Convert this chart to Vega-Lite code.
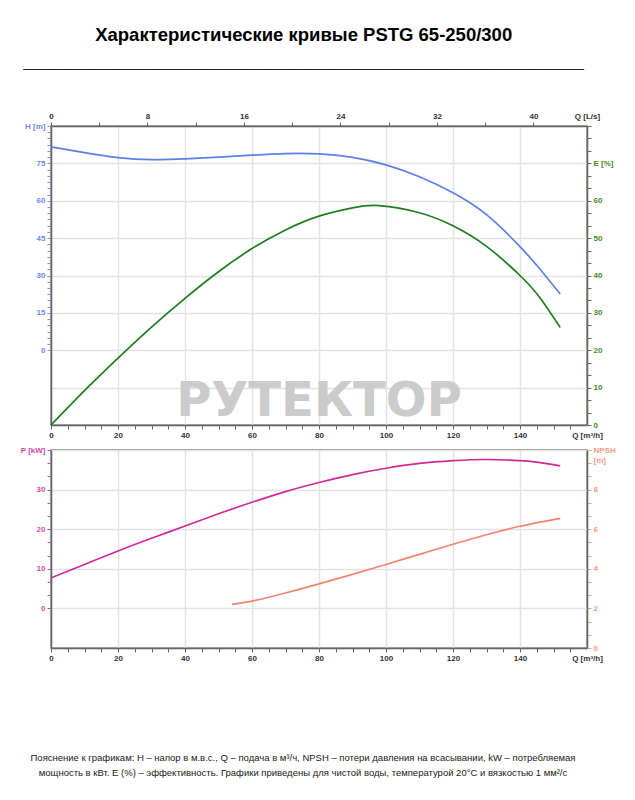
{
  "$schema": "https://vega.github.io/schema/vega-lite/v6.json",
  "background": "white",
  "padding": {"left": 19, "top": 25, "right": 5, "bottom": 5},
  "title": {
    "text": "Характеристические кривые PSTG 65-250/300",
    "subtitle": "____________________________________________________________________________________",
    "anchor": "middle",
    "font": "Liberation Sans",
    "fontSize": 18.5,
    "fontWeight": "bold",
    "color": "#000000",
    "subtitleFont": "Liberation Sans",
    "subtitleFontSize": 12,
    "subtitleColor": "#000000",
    "subtitlePadding": 14,
    "offset": 42,
    "dx": -14
  },
  "config": {
    "view": {"stroke": "#777777", "strokeWidth": 1.5},
    "axis": {
      "labelFont": "Liberation Sans",
      "labelFontSize": 8,
      "labelFontWeight": "bold",
      "labelColor": "#333333",
      "labelFlush": false,
      "labelOverlap": false,
      "domainColor": "#666666",
      "domainWidth": 1.5,
      "tickColor": "#666666",
      "tickWidth": 1,
      "tickSize": 4,
      "gridColor": "#e2e2e2",
      "gridWidth": 1.5,
      "title": null
    }
  },
  "datasets": {
    "hq": [
      {"Q": 0, "H": 81.6}, {"Q": 10, "H": 79.3}, {"Q": 20, "H": 77.3}, {"Q": 30, "H": 76.5},
      {"Q": 40, "H": 76.8}, {"Q": 50, "H": 77.5}, {"Q": 60, "H": 78.3}, {"Q": 70, "H": 78.9},
      {"Q": 80, "H": 78.8}, {"Q": 90, "H": 77.4}, {"Q": 100, "H": 74.4}, {"Q": 110, "H": 69.6},
      {"Q": 120, "H": 63.2}, {"Q": 130, "H": 54.4}, {"Q": 140, "H": 41.6}, {"Q": 146, "H": 32.5},
      {"Q": 152, "H": 22.6}
    ],
    "eff": [
      {"Q": 0, "E": 0}, {"Q": 10, "E": 9.2}, {"Q": 20, "E": 17.9}, {"Q": 30, "E": 26.2},
      {"Q": 40, "E": 33.9}, {"Q": 50, "E": 41.0}, {"Q": 60, "E": 47.2}, {"Q": 70, "E": 52.2},
      {"Q": 80, "E": 55.9}, {"Q": 90, "E": 58.1}, {"Q": 98, "E": 58.7}, {"Q": 110, "E": 56.8},
      {"Q": 120, "E": 53.3}, {"Q": 130, "E": 47.8}, {"Q": 140, "E": 40.0}, {"Q": 146, "E": 34.0},
      {"Q": 152, "E": 26.1}
    ],
    "pw": [
      {"Q": 0, "P": 7.7}, {"Q": 10, "P": 11.1}, {"Q": 20, "P": 14.5}, {"Q": 30, "P": 17.7},
      {"Q": 40, "P": 20.8}, {"Q": 50, "P": 23.9}, {"Q": 60, "P": 26.8}, {"Q": 70, "P": 29.5},
      {"Q": 80, "P": 31.8}, {"Q": 90, "P": 33.8}, {"Q": 100, "P": 35.4}, {"Q": 110, "P": 36.6},
      {"Q": 120, "P": 37.3}, {"Q": 130, "P": 37.6}, {"Q": 140, "P": 37.3}, {"Q": 146, "P": 36.8},
      {"Q": 152, "P": 36.0}
    ],
    "npsh": [
      {"Q": 54, "N": 2.2}, {"Q": 60, "N": 2.37}, {"Q": 70, "N": 2.78}, {"Q": 80, "N": 3.24},
      {"Q": 90, "N": 3.72}, {"Q": 100, "N": 4.22}, {"Q": 110, "N": 4.73}, {"Q": 120, "N": 5.24},
      {"Q": 130, "N": 5.72}, {"Q": 140, "N": 6.15}, {"Q": 152, "N": 6.55}
    ],
    "mark": [
      {"Q": 80, "E": 6.2, "t": "РУТЕКТОР"}
    ]
  },
  "spacing": 5,
  "vconcat": [
    {
      "width": 536,
      "height": 299,
      "layer": [
        {
          "data": {"name": "hq"},
          "mark": {"type": "line", "opacity": 0},
          "encoding": {
            "x": {"field": "Q", "type": "quantitative", "scale": {"domain": [0, 160], "nice": false, "zero": false},
              "axis": {"orient": "bottom", "values": [0, 20, 40, 60, 80, 100, 120, 140, 160], "grid": true, "ticks": false, "labels": false, "domain": false}},
            "y": {"field": "H", "type": "quantitative", "scale": {"domain": [-30, 90], "nice": false, "zero": false},
              "axis": {"orient": "left", "values": [-30, -15, 0, 15, 30, 45, 60, 75, 90], "grid": true, "ticks": false, "labels": false, "domain": false}}
          }
        },
        {
          "data": {"name": "hq"},
          "mark": {"type": "line", "color": "#5b80e8", "strokeWidth": 1.7, "interpolate": "natural"},
          "encoding": {
            "x": {"field": "Q", "type": "quantitative", "scale": {"domain": [0, 160], "nice": false, "zero": false},
              "axis": {"orient": "bottom", "grid": false,
                "values": [0,5,10,15,20,25,30,35,40,45,50,55,60,65,70,75,80,85,90,95,100,105,110,115,120,125,130,135,140,145,150,155,160],
                "labelExpr": "datum.value >= 159 ? 'Q [m³/h]' : (datum.value % 20 == 0 ? datum.label : '')",
                "tickOpacity": {"condition": {"test": "datum.value >= 159", "value": 0}, "value": 1}}},
            "y": {"field": "H", "type": "quantitative", "scale": {"domain": [-30, 90], "nice": false, "zero": false},
              "axis": {"orient": "left", "grid": false, "labelColor": "#6f88e4", "domainColor": "#666666",
                "values": [0,2.5,5,7.5,10,12.5,15,17.5,20,22.5,25,27.5,30,32.5,35,37.5,40,42.5,45,47.5,50,52.5,55,57.5,60,62.5,65,67.5,70,72.5,75,77.5,80,82.5,85,87.5,90],
                "tickColor": "#7b93e8",
                "labelExpr": "datum.value >= 89 ? 'H [m]' : (datum.value % 15 == 0 ? datum.label : '')"}}
          }
        },
        {
          "data": {"name": "eff"},
          "mark": {"type": "line", "color": "#1f7d1f", "strokeWidth": 1.7, "interpolate": "natural"},
          "encoding": {
            "x": {"field": "Q", "type": "quantitative", "scale": {"domain": [0, 160], "nice": false, "zero": false},
              "axis": {"orient": "top", "grid": false,
                "values": [0, 14.4, 28.8, 43.2, 57.6, 72, 86.4, 100.8, 115.2, 129.6, 144, 160],
                "labelExpr": "datum.value >= 159 ? 'Q [L/s]' : (round(datum.value / 3.6) % 8 == 0 ? format(round(datum.value / 3.6), 'd') : '')",
                "tickOpacity": {"condition": {"test": "datum.value >= 159", "value": 0}, "value": 1}}},
            "y": {"field": "E", "type": "quantitative", "scale": {"domain": [0, 80], "nice": false, "zero": false},
              "axis": {"orient": "right", "grid": false, "labelColor": "#3f8a25", "tickColor": "#3f8a25",
                "values": [0,3.3333,6.6667,10,13.3333,16.6667,20,23.3333,26.6667,30,33.3333,36.6667,40,43.3333,46.6667,50,53.3333,56.6667,60,63.3333,66.6667,70,73.3333,76.6667,80],
                "labelExpr": "abs(datum.value - 70) < 0.01 ? 'E [%]' : ((abs(datum.value / 10 - round(datum.value / 10)) < 0.001 && datum.value < 65) ? format(round(datum.value), 'd') : '')"}}
          }
        },
        {
          "data": {"name": "mark"},
          "mark": {"type": "text", "font": "DejaVu Sans", "fontSize": 48, "fontWeight": "bold", "color": "#cbcbcb", "baseline": "middle", "align": "center"},
          "encoding": {
            "x": {"field": "Q", "type": "quantitative", "scale": {"domain": [0, 160], "nice": false, "zero": false}, "axis": null},
            "y": {"field": "E", "type": "quantitative", "scale": {"domain": [0, 80], "nice": false, "zero": false}, "axis": null},
            "text": {"field": "t"}
          }
        }
      ],
      "resolve": {"scale": {"y": "independent"}, "axis": {"x": "independent", "y": "independent"}}
    },
    {
      "width": 536,
      "height": 198,
      "title": {
        "text": [
          "Пояснение к графикам: H – напор в м.в.с., Q – подача в м³/ч, NPSH – потери давления на всасывании, kW – потребляемая",
          "мощность в кВт. E (%) – эффективность.  Графики приведены для чистой воды, температурой 20°C и вязкостью 1 мм²/с"
        ],
        "orient": "bottom",
        "anchor": "middle",
        "font": "Liberation Sans",
        "fontSize": 9.5,
        "fontWeight": "normal",
        "color": "#1a1a1a",
        "lineHeight": 15,
        "offset": 91,
        "dx": -16
      },
      "layer": [
        {
          "data": {"name": "pw"},
          "mark": {"type": "line", "opacity": 0},
          "encoding": {
            "x": {"field": "Q", "type": "quantitative", "scale": {"domain": [0, 160], "nice": false, "zero": false},
              "axis": {"orient": "bottom", "values": [0, 20, 40, 60, 80, 100, 120, 140, 160], "grid": true, "ticks": false, "labels": false, "domain": false}},
            "y": {"field": "P", "type": "quantitative", "scale": {"domain": [-10, 40], "nice": false, "zero": false},
              "axis": {"orient": "left", "values": [-10, 0, 10, 20, 30, 40], "grid": true, "ticks": false, "labels": false, "domain": false}}
          }
        },
        {
          "data": {"name": "pw"},
          "mark": {"type": "line", "color": "#d1299a", "strokeWidth": 1.7, "interpolate": "natural"},
          "encoding": {
            "x": {"field": "Q", "type": "quantitative", "scale": {"domain": [0, 160], "nice": false, "zero": false},
              "axis": {"orient": "bottom", "grid": false,
                "values": [0,5,10,15,20,25,30,35,40,45,50,55,60,65,70,75,80,85,90,95,100,105,110,115,120,125,130,135,140,145,150,155,160],
                "labelExpr": "datum.value >= 159 ? 'Q [m³/h]' : (datum.value % 20 == 0 ? datum.label : '')",
                "tickOpacity": {"condition": {"test": "datum.value >= 159", "value": 0}, "value": 1}}},
            "y": {"field": "P", "type": "quantitative", "scale": {"domain": [-10, 40], "nice": false, "zero": false},
              "axis": {"orient": "left", "grid": false, "labelColor": "#d64aa6", "tickColor": "#d64aa6",
                "values": [0,3.3333,6.6667,10,13.3333,16.6667,20,23.3333,26.6667,30,33.3333,36.6667,40],
                "labelExpr": "abs(datum.value - 40) < 0.01 ? 'P [kW]' : (abs(datum.value / 10 - round(datum.value / 10)) < 0.001 ? format(round(datum.value), 'd') : '')"}}
          }
        },
        {
          "data": {"name": "npsh"},
          "mark": {"type": "line", "color": "#f4836f", "strokeWidth": 1.7, "interpolate": "natural"},
          "encoding": {
            "x": {"field": "Q", "type": "quantitative", "scale": {"domain": [0, 160], "nice": false, "zero": false}, "axis": null},
            "y": {"field": "N", "type": "quantitative", "scale": {"domain": [0, 10], "nice": false, "zero": false},
              "axis": {"orient": "right", "grid": false, "labelColor": "#f59a88", "tickColor": "#f59a88",
                "values": [0,0.6667,1.3333,2,2.6667,3.3333,4,4.6667,5.3333,6,6.6667,7.3333,8,8.6667,9.3333,10],
                "labelExpr": "abs(datum.value - 10) < 0.01 ? ['NPSH', '[m]'] : (abs(datum.value / 2 - round(datum.value / 2)) < 0.001 ? format(round(datum.value), 'd') : '')"}}
          }
        }
      ],
      "resolve": {"scale": {"y": "independent"}, "axis": {"x": "independent", "y": "independent"}}
    }
  ]
}
